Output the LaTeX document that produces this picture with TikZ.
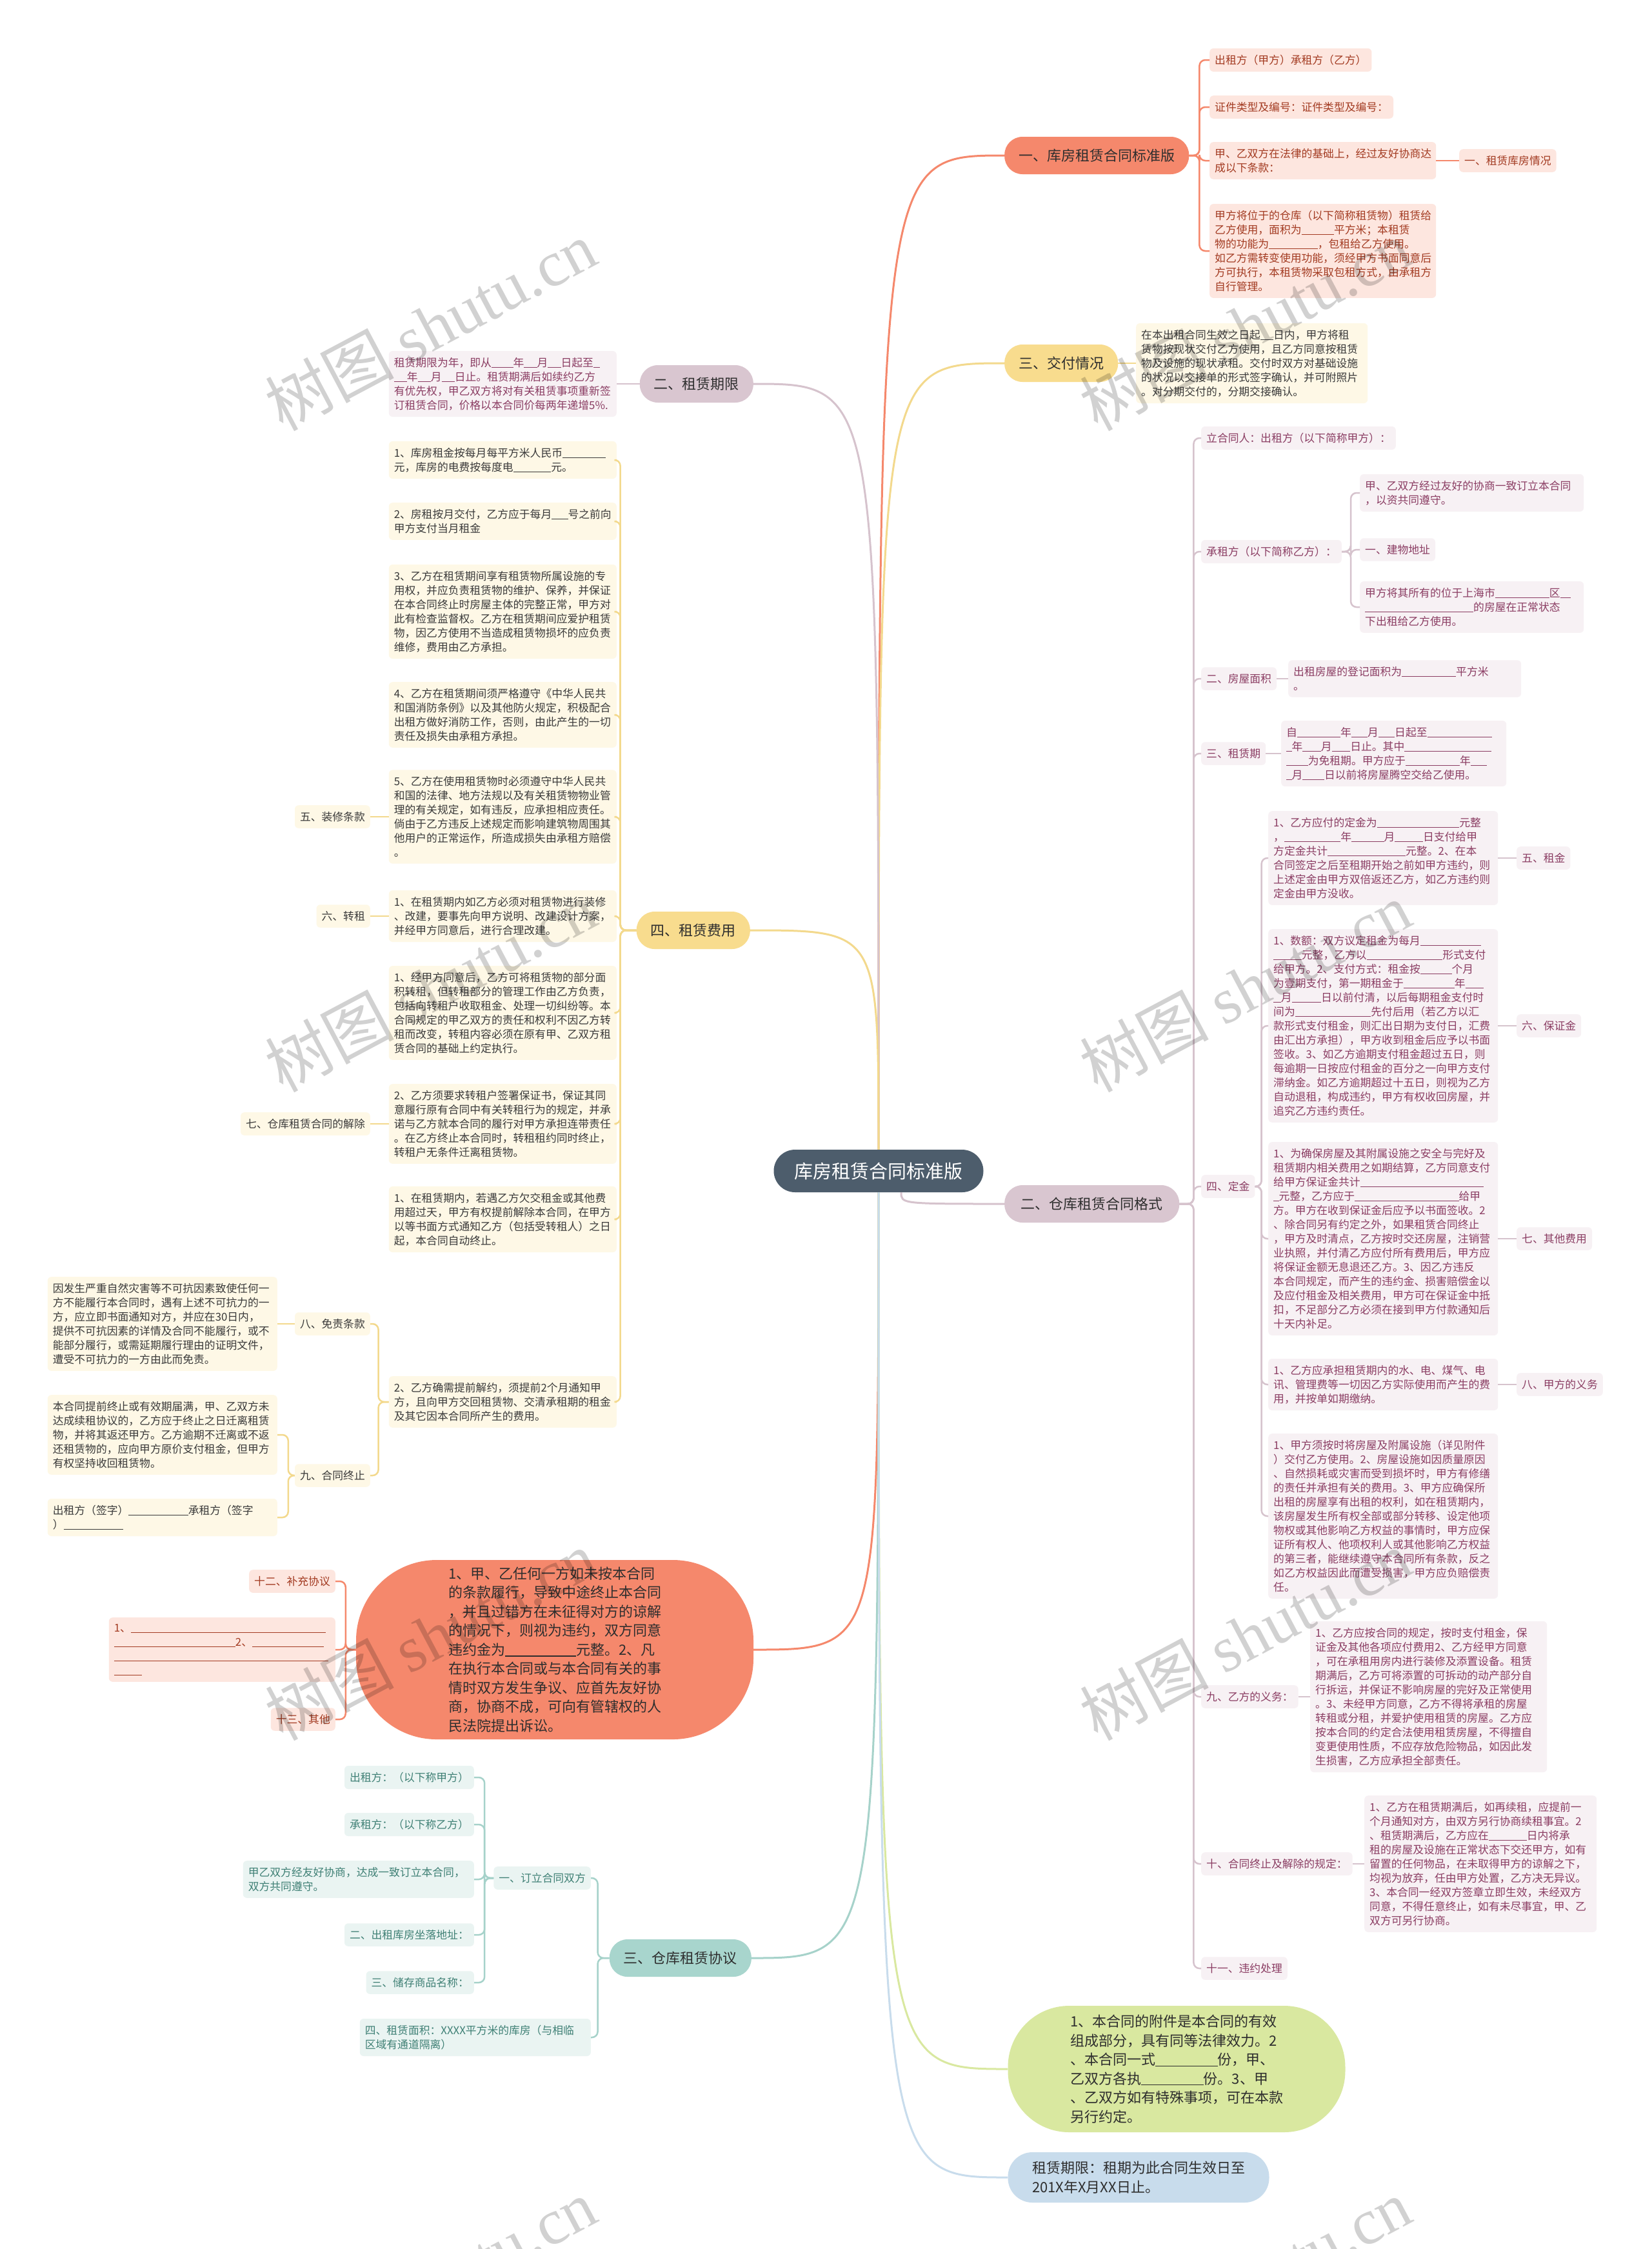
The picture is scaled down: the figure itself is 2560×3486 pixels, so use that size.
\documentclass[tikz,border=0pt]{standalone}
\usepackage{fontspec}
\setmainfont{Noto Sans CJK SC}
\newfontfamily\wmfont{Liberation Serif}

\definecolor{rootc}{HTML}{4D5D6C}
\definecolor{brtx}{HTML}{2E2E2E}
\definecolor{salm}{HTML}{F5886C}
\definecolor{salmlt}{HTML}{FDE6DF}
\definecolor{salmtx}{HTML}{A33B22}
\definecolor{yel}{HTML}{F8DC8E}
\definecolor{yelln}{HTML}{F3D98D}
\definecolor{yellt}{HTML}{FEF8E6}
\definecolor{yeltx}{HTML}{3A3A3A}
\definecolor{mauv}{HTML}{D9C6D0}
\definecolor{mauvln}{HTML}{D6C3CD}
\definecolor{mauvlt}{HTML}{F7F1F4}
\definecolor{mauvtx}{HTML}{8B3D63}
\definecolor{tealbr}{HTML}{A8D5CD}
\definecolor{tealln}{HTML}{A6D2CA}
\definecolor{teallt}{HTML}{EAF4F2}
\definecolor{tealtx}{HTML}{3F8075}
\definecolor{limebr}{HTML}{D9E8A0}
\definecolor{skybr}{HTML}{C8DCEC}

\newcommand{\gapline}[1]{\rule[-0.1em]{#1em}{0.06em}}
\newcommand{\leaffont}{\fontsize{16.8}{22}\selectfont}
\newcommand{\brfont}{\fontsize{22}{29.5}\selectfont}
\newcommand{\rootfont}{\fontsize{29}{35}\selectfont}

\tikzset{
  root-n/.style={fill=rootc,text=white,rounded corners=33pt,minimum width=325pt,minimum height=66pt,font=\rootfont},
  br/.style={rounded corners=28pt,minimum height=58pt,inner xsep=22pt,text=brtx,font=\brfont},
  br-s/.style={fill=salm},
  br-y/.style={fill=yel},
  br-m/.style={fill=mauv},
  br-t/.style={fill=tealbr},
  blob/.style={align=left,text=brtx,font=\brfont},
  leaf/.style={rounded corners=6pt,inner xsep=8pt,inner ysep=10pt,align=left,font=\leaffont},
  leaf-s/.style={fill=salmlt,text=salmtx},
  leaf-y/.style={fill=yellt,text=yeltx},
  leaf-m/.style={fill=mauvlt,text=mauvtx},
  leaf-t/.style={fill=teallt,text=tealtx},
  para/.style={text width=#1pt},
  link-s/.style={draw=salm,line width=2.5pt,rounded corners=9pt},
  link-y/.style={draw=yelln,line width=2.5pt,rounded corners=9pt},
  link-m/.style={draw=mauvln,line width=2.5pt,rounded corners=9pt},
  link-t/.style={draw=tealln,line width=2.5pt,rounded corners=9pt},
  trunk/.style={line width=3pt},
  wmark/.style={rotate=28,text=black,text opacity=0.18,font=\fontsize{100}{100}\selectfont},
}

\begin{document}
\begin{tikzpicture}[x=1pt,y=-1pt]
  \useasboundingbox (0,0) rectangle (2560,3486);
  \fill[white] (0,0) rectangle (2560,3486);

  % ROOT
  \node[root-n] (root) at (1362,1815) {库房租赁合同标准版};
  \coordinate (rs) at ([xshift=35pt]root.south);

  % RIGHT 1: 一、库房租赁合同标准版
  \node[br,br-s,anchor=west] (br1) at (1557,241) {一、库房租赁合同标准版};
  \node[leaf,leaf-s,anchor=west] (a1) at (1875,93) {出租方（甲方）承租方（乙方）};
  \node[leaf,leaf-s,anchor=west] (a2) at (1875,166) {证件类型及编号：证件类型及编号：};
  \node[leaf,leaf-s,para=335,anchor=west] (a3) at (1875,249) {甲、乙双方在法律的基础上，经过友好协商达\\成以下条款：};
  \node[leaf,leaf-s,anchor=west] (a3c) at (2262,249) {一、租赁库房情况};
  \node[leaf,leaf-s,para=335,anchor=west] (a4) at (1875,389) {甲方将位于的仓库（以下简称租赁物）租赁给\\乙方使用，面积为\gapline{3}平方米；本租赁\\物的功能为\gapline{4.5}，包租给乙方使用。\\如乙方需转变使用功能，须经甲方书面同意后\\方可执行，本租赁物采取包租方式，由承租方\\自行管理。};
  \foreach \c in {a1,a2,a3,a4} \draw[link-s] (br1.east) -- ++(16,0) |- (\c.west);
  \draw[link-s] (a3.east) -- (a3c.west);

  % RIGHT 2: 三、交付情况
  \node[br,br-y,anchor=west] (br3) at (1557,563) {三、交付情况};
  \node[leaf,leaf-y,para=343,anchor=west] (c1) at (1761,563) {在本出租合同生效之日起\gapline{1.2}日内，甲方将租\\赁物按现状交付乙方使用，且乙方同意按租赁\\物及设施的现状承租。交付时双方对基础设施\\的状况以交接单的形式签字确认，并可附照片\\。对分期交付的，分期交接确认。};
  \draw[link-y] (br3.east) -- (c1.west);

  % RIGHT 3: 二、仓库租赁合同格式
  \node[br,br-m,minimum width=271pt,anchor=west] (br2) at (1557,1866) {二、仓库租赁合同格式};
  \node[leaf,leaf-m,anchor=west] (m1) at (1862,679) {立合同人：出租方（以下简称甲方）：};
  \node[leaf,leaf-m,anchor=west] (m2) at (1862,855) {承租方（以下简称乙方）：};
  \node[leaf,leaf-m,para=331,anchor=west] (m2a) at (2108,764) {甲、乙双方经过友好的协商一致订立本合同\\，以资共同遵守。};
  \node[leaf,leaf-m,anchor=west] (m2b) at (2108,852) {一、建物地址};
  \node[leaf,leaf-m,para=331,anchor=west] (m2c) at (2108,941) {甲方将其所有的位于上海市\gapline{5}区\gapline{1}\\\gapline{10}的房屋在正常状态\\下出租给乙方使用。};
  \node[leaf,leaf-m,anchor=west] (m3) at (1862,1052) {二、房屋面积};
  \node[leaf,leaf-m,para=345,anchor=west] (m3a) at (1997,1052) {出租房屋的登记面积为\gapline{5}平方米\\。};
  \node[leaf,leaf-m,anchor=west] (m4) at (1862,1168) {三、租赁期};
  \node[leaf,leaf-m,para=333,anchor=west] (m4a) at (1986,1168) {自\gapline{4}年\gapline{1.5}月\gapline{1.5}日起至\gapline{6}\\\gapline{0.5}年\gapline{1.7}月\gapline{1.7}日止。其中\gapline{8}\\\gapline{2}为免租期。甲方应于\gapline{5}年\gapline{1.5}\\\gapline{0.5}月\gapline{2}日以前将房屋腾空交给乙使用。};
  \node[leaf,leaf-m,anchor=west] (m5) at (1862,1839) {四、定金};
  \node[leaf,leaf-m,para=340,anchor=west] (m5a) at (1966,1330) {1、乙方应付的定金为\gapline{7.6}元整\\，\gapline{5.2}年\gapline{3}月\gapline{2.6}日支付给甲\\方定金共计\gapline{7.2}元整。2、在本\\合同签定之后至租期开始之前如甲方违约，则\\上述定金由甲方双倍返还乙方，如乙方违约则\\定金由甲方没收。};
  \node[leaf,leaf-m,para=340,anchor=west] (m5b) at (1966,1590) {1、数额：双方议定租金为每月\gapline{5.6}\\\gapline{2.6}元整，乙方以\gapline{7}形式支付\\给甲方。2、支付方式：租金按\gapline{2.9}个月\\为壹期支付，第一期租金于\gapline{4.7}年\gapline{1.7}\\\gapline{0.7}月\gapline{2.7}日以前付清，以后每期租金支付时\\间为\gapline{7}先付后用（若乙方以汇\\款形式支付租金，则汇出日期为支付日，汇费\\由汇出方承担），甲方收到租金后应予以书面\\签收。3、如乙方逾期支付租金超过五日，则\\每逾期一日按应付租金的百分之一向甲方支付\\滞纳金。如乙方逾期超过十五日，则视为乙方\\自动退租，构成违约，甲方有权收回房屋，并\\追究乙方违约责任。};
  \node[leaf,leaf-m,para=340,anchor=west] (m5c) at (1966,1920) {1、为确保房屋及其附属设施之安全与完好及\\租赁期内相关费用之如期结算，乙方同意支付\\给甲方保证金共计\gapline{11.4}\\\gapline{0.5}元整，乙方应于\gapline{9.6}给甲\\方。甲方在收到保证金后应予以书面签收。2\\、除合同另有约定之外，如果租赁合同终止\\，甲方及时清点，乙方按时交还房屋，注销营\\业执照，并付清乙方应付所有费用后，甲方应\\将保证金额无息退还乙方。3、因乙方违反\\本合同规定，而产生的违约金、损害赔偿金以\\及应付租金及相关费用，甲方可在保证金中抵\\扣，不足部分乙方必须在接到甲方付款通知后\\十天内补足。};
  \node[leaf,leaf-m,para=340,anchor=west] (m5d) at (1966,2146) {1、乙方应承担租赁期内的水、电、煤气、电\\讯、管理费等一切因乙方实际使用而产生的费\\用，并按单如期缴纳。};
  \node[leaf,leaf-m,para=340,anchor=west] (m5e) at (1966,2350) {1、甲方须按时将房屋及附属设施（详见附件\\）交付乙方使用。2、房屋设施如因质量原因\\、自然损耗或灾害而受到损坏时，甲方有修缮\\的责任并承担有关的费用。3、甲方应确保所\\出租的房屋享有出租的权利，如在租赁期内，\\该房屋发生所有权全部或部分转移、设定他项\\物权或其他影响乙方权益的事情时，甲方应保\\证所有权人、他项权利人或其他影响乙方权益\\的第三者，能继续遵守本合同所有条款，反之\\如乙方权益因此而遭受损害，甲方应负赔偿责\\任。};
  \node[leaf,leaf-m,anchor=west] (m5a1) at (2351,1330) {五、租金};
  \node[leaf,leaf-m,anchor=west] (m5b1) at (2351,1590) {六、保证金};
  \node[leaf,leaf-m,anchor=west] (m5c1) at (2351,1920) {七、其他费用};
  \node[leaf,leaf-m,anchor=west] (m5d1) at (2351,2146) {八、甲方的义务};
  \node[leaf,leaf-m,anchor=west] (m6) at (1862,2630) {九、乙方的义务：};
  \node[leaf,leaf-m,para=351,anchor=west] (m6a) at (2031,2630) {1、乙方应按合同的规定，按时支付租金，保\\证金及其他各项应付费用2、乙方经甲方同意\\，可在承租用房内进行装修及添置设备。租赁\\期满后，乙方可将添置的可拆动的动产部分自\\行拆运，并保证不影响房屋的完好及正常使用\\。3、未经甲方同意，乙方不得将承租的房屋\\转租或分租，并爱护使用租赁的房屋。乙方应\\按本合同的约定合法使用租赁房屋，不得擅自\\变更使用性质，不应存放危险物品，如因此发\\生损害，乙方应承担全部责任。};
  \node[leaf,leaf-m,anchor=west] (m7) at (1862,2889) {十、合同终止及解除的规定：};
  \node[leaf,leaf-m,para=344,anchor=west] (m7a) at (2115,2889) {1、乙方在租赁期满后，如再续租，应提前一\\个月通知对方，由双方另行协商续租事宜。2\\、租赁期满后，乙方应在\gapline{3.5}日内将承\\租的房屋及设施在正常状态下交还甲方，如有\\留置的任何物品，在未取得甲方的谅解之下，\\均视为放弃，任由甲方处置，乙方决无异议。\\3、本合同一经双方签章立即生效，未经双方\\同意，不得任意终止，如有未尽事宜，甲、乙\\双方可另行协商。};
  \node[leaf,leaf-m,anchor=west] (m8) at (1862,3051) {十一、违约处理};
  \foreach \c in {m1,m2,m3,m4,m5,m6,m7,m8} \draw[link-m] (br2.east) -- ++(22,0) |- (\c.west);
  \foreach \c in {m2a,m2b,m2c} \draw[link-m] (m2.east) -- ++(14,0) |- (\c.west);
  \foreach \c in {m5a,m5b,m5c,m5d,m5e} \draw[link-m] (m5.east) -- ++(10,0) |- (\c.west);
  \foreach \c in {m5a,m5b,m5c,m5d} \draw[link-m] (\c.east) -- (\c1.west);
  \draw[link-m] (m3.east) -- (m3a.west);
  \draw[link-m] (m4.east) -- (m4a.west);
  \draw[link-m] (m6.east) -- (m6a.west);
  \draw[link-m] (m7.east) -- (m7a.west);

  % RIGHT 4: bottom blobs
  \node[blob,fill=limebr,minimum width=523pt,minimum height=196pt,rounded corners=95pt] (br9) at (1824,3207) {1、本合同的附件是本合同的有效\\组成部分，具有同等法律效力。2\\、本合同一式\gapline{4.4}份，甲、\\乙双方各执\gapline{4.4}份。3、甲\\、乙双方如有特殊事项，可在本款\\另行约定。};
  \node[blob,fill=skybr,minimum width=405pt,minimum height=78pt,rounded corners=38pt] (br10) at (1765,3375) {租赁期限：租期为此合同生效日至\\201X年X月XX日止。};

  % LEFT 1: 二、租赁期限
  \node[br,br-m,anchor=east] (br5) at (1168,595) {二、租赁期限};
  \node[leaf,leaf-m,para=337,anchor=east] (d1) at (956,595) {租赁期限为年，即从\gapline{2}年\gapline{1.2}月\gapline{1.2}日起至\gapline{0.6}\\\gapline{1.2}年\gapline{1.2}月\gapline{1.2}日止。租赁期满后如续约乙方\\有优先权，甲乙双方将对有关租赁事项重新签\\订租赁合同，价格以本合同价每两年递增5\%.};
  \draw[link-m] (br5.west) -- (d1.east);

  % LEFT 2: 四、租赁费用
  \node[br,br-y,anchor=east] (br6) at (1163,1442) {四、租赁费用};
  \node[leaf,leaf-y,para=337,anchor=east] (y1) at (956,713) {1、库房租金按每月每平方米人民币\gapline{4}\\元，库房的电费按每度电\gapline{3.5}元。};
  \node[leaf,leaf-y,para=337,anchor=east] (y2) at (956,808) {2、房租按月交付，乙方应于每月\gapline{1.5}号之前向\\甲方支付当月租金};
  \node[leaf,leaf-y,para=337,anchor=east] (y3) at (956,948) {3、乙方在租赁期间享有租赁物所属设施的专\\用权，并应负责租赁物的维护、保养，并保证\\在本合同终止时房屋主体的完整正常，甲方对\\此有检查监督权。乙方在租赁期间应爱护租赁\\物，因乙方使用不当造成租赁物损坏的应负责\\维修，费用由乙方承担。};
  \node[leaf,leaf-y,para=337,anchor=east] (y4) at (956,1108) {4、乙方在租赁期间须严格遵守《中华人民共\\和国消防条例》以及其他防火规定，积极配合\\出租方做好消防工作，否则，由此产生的一切\\责任及损失由承租方承担。};
  \node[leaf,leaf-y,para=337,anchor=east] (y5) at (956,1266) {5、乙方在使用租赁物时必须遵守中华人民共\\和国的法律、地方法规以及有关租赁物物业管\\理的有关规定，如有违反，应承担相应责任。\\倘由于乙方违反上述规定而影响建筑物周围其\\他用户的正常运作，所造成损失由承租方赔偿\\。};
  \node[leaf,leaf-y,para=337,anchor=east] (y6) at (956,1420) {1、在租赁期内如乙方必须对租赁物进行装修\\、改建，要事先向甲方说明、改建设计方案，\\并经甲方同意后，进行合理改建。};
  \node[leaf,leaf-y,para=337,anchor=east] (y7) at (956,1570) {1、经甲方同意后，乙方可将租赁物的部分面\\积转租，但转租部分的管理工作由乙方负责，\\包括向转租户收取租金、处理一切纠纷等。本\\合同规定的甲乙双方的责任和权利不因乙方转\\租而改变，转租内容必须在原有甲、乙双方租\\赁合同的基础上约定执行。};
  \node[leaf,leaf-y,para=337,anchor=east] (y8) at (956,1742) {2、乙方须要求转租户签署保证书，保证其同\\意履行原有合同中有关转租行为的规定，并承\\诺与乙方就本合同的履行对甲方承担连带责任\\。在乙方终止本合同时，转租租约同时终止，\\转租户无条件迁离租赁物。};
  \node[leaf,leaf-y,para=337,anchor=east] (y9) at (956,1890) {1、在租赁期内，若遇乙方欠交租金或其他费\\用超过天，甲方有权提前解除本合同，在甲方\\以等书面方式通知乙方（包括受转租人）之日\\起，本合同自动终止。};
  \node[leaf,leaf-y,para=337,anchor=east] (y10) at (956,2173) {2、乙方确需提前解约，须提前2个月通知甲\\方，且向甲方交回租赁物、交清承租期的租金\\及其它因本合同所产生的费用。};
  \node[leaf,leaf-y,anchor=east] (y5c) at (574,1266) {五、装修条款};
  \node[leaf,leaf-y,anchor=east] (y6c) at (574,1420) {六、转租};
  \node[leaf,leaf-y,anchor=east] (y8c) at (574,1742) {七、仓库租赁合同的解除};
  \node[leaf,leaf-y,anchor=east] (y10a) at (574,2052) {八、免责条款};
  \node[leaf,leaf-y,anchor=east] (y10b) at (574,2287) {九、合同终止};
  \node[leaf,leaf-y,para=340,anchor=east] (y11) at (430,2052) {因发生严重自然灾害等不可抗因素致使任何一\\方不能履行本合同时，遇有上述不可抗力的一\\方，应立即书面通知对方，并应在30日内，\\提供不可抗因素的详情及合同不能履行，或不\\能部分履行，或需延期履行理由的证明文件，\\遭受不可抗力的一方由此而免责。};
  \node[leaf,leaf-y,para=340,anchor=east] (y12) at (430,2224) {本合同提前终止或有效期届满，甲、乙双方未\\达成续租协议的，乙方应于终止之日迁离租赁\\物，并将其返还甲方。乙方逾期不迁离或不返\\还租赁物的，应向甲方原价支付租金，但甲方\\有权坚持收回租赁物。};
  \node[leaf,leaf-y,para=340,anchor=east] (y13) at (430,2352) {出租方（签字）\gapline{5.5}承租方（签字\\）\gapline{5.5}};
  \foreach \c in {y1,y2,y3,y4,y5,y6,y7,y8,y9,y10} \draw[link-y] (br6.west) -- ++(-25,0) |- (\c.east);
  \draw[link-y] (y5.west) -- (y5c.east);
  \draw[link-y] (y6.west) -- (y6c.east);
  \draw[link-y] (y8.west) -- (y8c.east);
  \foreach \c in {y10a,y10b} \draw[link-y] (y10.west) -- ++(-16,0) |- (\c.east);
  \draw[link-y] (y10a.west) -- (y11.east);
  \foreach \c in {y12,y13} \draw[link-y] (y10b.west) -- ++(-10,0) |- (\c.east);

  % LEFT 3: salmon blob
  \node[blob,fill=salm,minimum width=616pt,minimum height=278pt,rounded corners=125pt] (br7) at (860,2557) {1、甲、乙任何一方如未按本合同\\的条款履行，导致中途终止本合同\\，并且过错方在未征得对方的谅解\\的情况下，则视为违约，双方同意\\违约金为\gapline{5}元整。2、凡\\在执行本合同或与本合同有关的事\\情时双方发生争议、应首先友好协\\商，协商不成，可向有管辖权的人\\民法院提出诉讼。};
  \node[leaf,leaf-s,anchor=east] (e1) at (520,2451) {十二、补充协议};
  \node[leaf,leaf-s,para=335,anchor=east] (e2) at (520,2557) {1、\gapline{18}\\\gapline{11.2}2、\gapline{6.6}\\\gapline{19.8}\\\gapline{2.6}};
  \node[leaf,leaf-s,anchor=east] (e3) at (520,2665) {十三、其他};
  \foreach \c in {e1,e2,e3} \draw[link-s] (br7.west) -- ++(-16,0) |- (\c.east);

  % LEFT 4: 三、仓库租赁协议
  \node[br,br-t,anchor=east] (br8) at (1165,3035) {三、仓库租赁协议};
  \node[leaf,leaf-t,anchor=east] (t1) at (916,2911) {一、订立合同双方};
  \node[leaf,leaf-t,para=342,anchor=east] (t2) at (916,3158) {四、租赁面积：XXXX平方米的库房（与相临\\区域有通道隔离）};
  \node[leaf,leaf-t,anchor=east] (t1a) at (735,2755) {出租方：（以下称甲方）};
  \node[leaf,leaf-t,anchor=east] (t1b) at (735,2828) {承租方：（以下称乙方）};
  \node[leaf,leaf-t,para=342,anchor=east] (t1c) at (735,2913) {甲乙双方经友好协商，达成一致订立本合同，\\双方共同遵守。};
  \node[leaf,leaf-t,anchor=east] (t1d) at (735,2999) {二、出租库房坐落地址：};
  \node[leaf,leaf-t,anchor=east] (t1e) at (735,3073) {三、储存商品名称：};
  \foreach \c in {t1,t2} \draw[link-t] (br8.west) -- ++(-18,0) |- (\c.east);
  \foreach \c in {t1a,t1b,t1c,t1d,t1e} \draw[link-t] (t1.west) -- ++(-14,0) |- (\c.east);

  % TRUNKS from root
  \draw[trunk,salm] (root.north) .. controls (root.north |- br1.west) .. (br1.west);
  \draw[trunk,yelln] (root.north) .. controls (root.north |- br3.west) .. (br3.west);
  \draw[trunk,mauvln] (root.north) .. controls (root.north |- br5.east) .. (br5.east);
  \draw[trunk,yelln] (root.north) .. controls (root.north |- br6.east) .. (br6.east);
  \draw[trunk,mauvln] (rs) .. controls (rs |- br2.west) .. (br2.west);
  \draw[trunk,salm] (root.south) .. controls (root.south |- br7.east) .. (br7.east);
  \draw[trunk,tealln] (root.south) .. controls (root.south |- br8.east) .. (br8.east);
  \draw[trunk,limebr] (root.south) .. controls (root.south |- br9.west) .. (br9.west);
  \draw[trunk,skybr] (root.south) .. controls (root.south |- br10.west) .. (br10.west);

  % watermark
  \foreach \wx/\wy [count=\i] in {667/505,1930/505,667/1530,1930/1530,667/2535,1930/2535,667/3540,1930/3540}
    \node[wmark] (wm\i) at (\wx,\wy) {树图 {\wmfont shutu.cn}};

\end{tikzpicture}
\end{document}
